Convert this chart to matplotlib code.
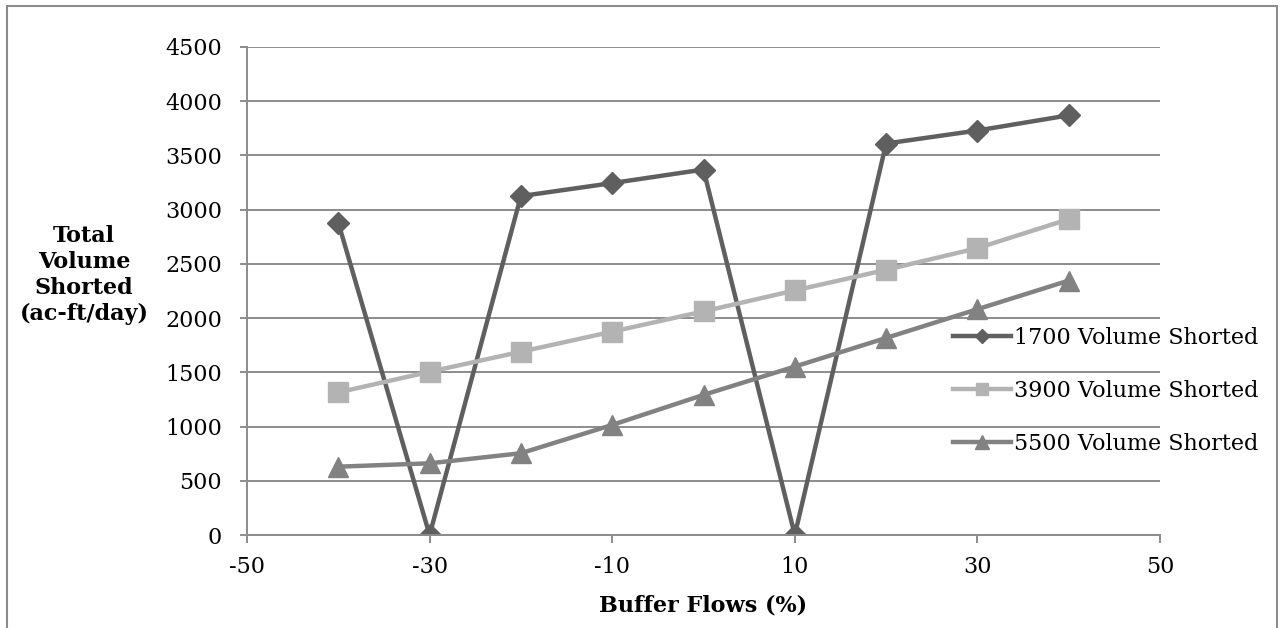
import matplotlib
matplotlib.use("Agg")
import matplotlib.pyplot as plt
from matplotlib.patches import Rectangle

buffer_flows = [-40, -30, -20, -10, 0, 10, 20, 30, 40]
vol_1700 = [2880, 0, 3125, 3245, 3370, 0, 3610, 3730, 3870]
vol_3900 = [1315, 1505, 1690, 1875, 2062, 2255, 2445, 2645, 2912]
vol_5500 = [630, 661, 754, 1015, 1292, 1553, 1817, 2082, 2346]
series_names = ["1700 Volume Shorted", "3900 Volume Shorted", "5500 Volume Shorted"]
x_ticks = [-50, -30, -10, 10, 30, 50]
y_ticks = list(range(0, 4501, 500))

plt.rcParams['font.family'] = ['DejaVu Serif']
plt.rcParams['axes.unicode_minus'] = False

fig = plt.figure(figsize=(12.83, 6.28), dpi=100)
ax = fig.add_axes([247/1283, 1-535/628, (1160-247)/1283, (535-47)/628])

# figure border
fig.patches.append(Rectangle((7/1283, -0.05), (1277-7)/1283, 1.05-6/628, transform=fig.transFigure,
                             fill=False, edgecolor='#8c8c8c', linewidth=1.5))

styles = [
    dict(color='#5f5f5f', marker='D', markersize=11),
    dict(color='#b3b3b3', marker='s', markersize=14),
    dict(color='#828282', marker='^', markersize=14.5),
]
for vals, name, st in zip([vol_1700, vol_3900, vol_5500], series_names, styles):
    ax.plot(buffer_flows, vals, linewidth=3.2, label=name, **st)

ax.set_xlim(-50, 50)
ax.set_ylim(0, 4500)
ax.set_xticks(x_ticks)
ax.set_yticks(y_ticks)
ax.yaxis.grid(True, color='#8c8c8c', linewidth=1.4)
ax.set_axisbelow(True)
for s in ['top', 'right']:
    ax.spines[s].set_visible(False)
for s in ['left', 'bottom']:
    ax.spines[s].set_color('#8c8c8c')
    ax.spines[s].set_linewidth(1.4)
ax.tick_params(axis='both', colors='#8c8c8c', labelcolor='black', labelsize=16, width=1.4)
ax.tick_params(axis='y', length=5, pad=13)
ax.tick_params(axis='x', length=6, pad=9)

ax.set_xlabel("Buffer Flows (%)", fontsize=16, fontweight='bold', labelpad=12)
fig.text(84/1283, 1-275/628, "Total\nVolume\nShorted\n(ac-ft/day)", ha='center', va='center',
         fontsize=16, fontweight='bold', linespacing=1.25)

leg = ax.legend(loc='center left', bbox_to_anchor=((953-247)/913, (535-391)/488), frameon=False,
                fontsize=16, handlelength=2.6, handletextpad=0.15, labelspacing=1.4,
                borderaxespad=0, borderpad=0, markerscale=0.65)

fig.savefig("out.png", dpi=100)
